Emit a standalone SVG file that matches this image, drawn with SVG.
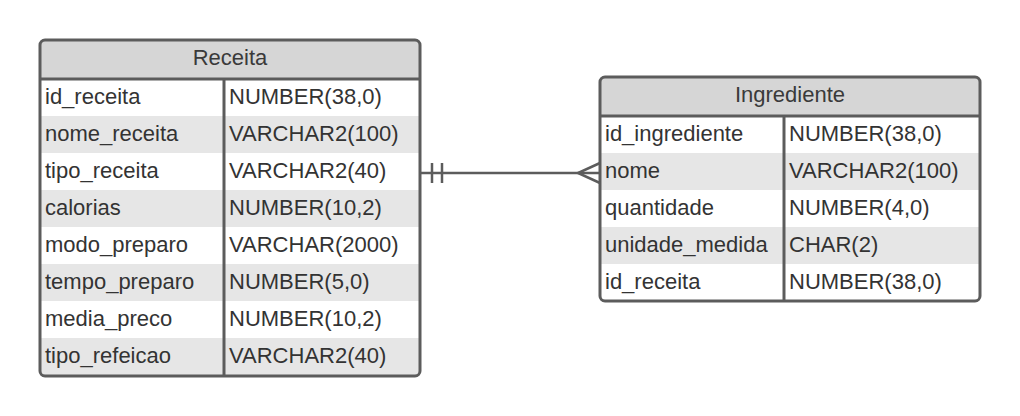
<svg xmlns="http://www.w3.org/2000/svg" width="1020" height="416" viewBox="0 0 1020 416">
<style>
.t{font-family:"Liberation Sans",Arial,sans-serif;font-size:22px;fill:#333333}
.h{font-family:"Liberation Sans",Arial,sans-serif;font-size:22px;fill:#3a3a3a;text-anchor:middle}
.alt{fill:#e6e6e6}
.hdr{fill:#d6d6d6}
.ln{stroke:#5c5c5c;stroke-width:3;fill:none}
.cn{stroke:#5c5c5c;stroke-width:2.5;fill:none}
</style>
<rect width="1020" height="416" fill="#ffffff"/>
<g id="receita">
<rect x="40" y="40" width="380" height="336" rx="5" fill="#ffffff"/>
<path class="hdr" d="M45 40 H415 A5 5 0 0 1 420 45 V79 H40 V45 A5 5 0 0 1 45 40 Z"/>
<rect class="alt" x="40" y="116" width="380" height="37"/>
<rect class="alt" x="40" y="190" width="380" height="37"/>
<rect class="alt" x="40" y="264" width="380" height="37"/>
<rect class="alt" x="40" y="338" width="380" height="37"/>
<rect class="ln" x="40" y="40" width="380" height="336" rx="5"/>
<line class="ln" x1="40" y1="79" x2="420" y2="79"/>
<line class="ln" x1="224" y1="79" x2="224" y2="376"/>
<text class="h" x="230" y="65">Receita</text>
<text class="t" x="45" y="104">id_receita</text><text class="t" x="229" y="104">NUMBER(38,0)</text>
<text class="t" x="45" y="141">nome_receita</text><text class="t" x="229" y="141">VARCHAR2(100)</text>
<text class="t" x="45" y="178">tipo_receita</text><text class="t" x="229" y="178">VARCHAR2(40)</text>
<text class="t" x="45" y="215">calorias</text><text class="t" x="229" y="215">NUMBER(10,2)</text>
<text class="t" x="45" y="252">modo_preparo</text><text class="t" x="229" y="252">VARCHAR(2000)</text>
<text class="t" x="45" y="289">tempo_preparo</text><text class="t" x="229" y="289">NUMBER(5,0)</text>
<text class="t" x="45" y="326">media_preco</text><text class="t" x="229" y="326">NUMBER(10,2)</text>
<text class="t" x="45" y="363">tipo_refeicao</text><text class="t" x="229" y="363">VARCHAR2(40)</text>
</g>
<g id="ingrediente">
<rect x="600" y="77" width="380" height="224" rx="5" fill="#ffffff"/>
<path class="hdr" d="M605 77 H975 A5 5 0 0 1 980 82 V116 H600 V82 A5 5 0 0 1 605 77 Z"/>
<rect class="alt" x="600" y="153" width="380" height="37"/>
<rect class="alt" x="600" y="227" width="380" height="37"/>
<rect class="ln" x="600" y="77" width="380" height="224" rx="5"/>
<line class="ln" x1="600" y1="116" x2="980" y2="116"/>
<line class="ln" x1="784" y1="116" x2="784" y2="301"/>
<text class="h" x="790" y="102">Ingrediente</text>
<text class="t" x="605" y="141">id_ingrediente</text><text class="t" x="789" y="141">NUMBER(38,0)</text>
<text class="t" x="605" y="178">nome</text><text class="t" x="789" y="178">VARCHAR2(100)</text>
<text class="t" x="605" y="215">quantidade</text><text class="t" x="789" y="215">NUMBER(4,0)</text>
<text class="t" x="605" y="252">unidade_medida</text><text class="t" x="789" y="252">CHAR(2)</text>
<text class="t" x="605" y="289">id_receita</text><text class="t" x="789" y="289">NUMBER(38,0)</text>
</g>
<g id="connectors">
<line class="cn" x1="420" y1="173" x2="600" y2="173"/>
<line class="cn" x1="432" y1="163" x2="432" y2="183"/>
<line class="cn" x1="442" y1="163" x2="442" y2="183"/>
<polyline class="cn" points="600,163 578,173 600,183"/>
</g>
</svg>
